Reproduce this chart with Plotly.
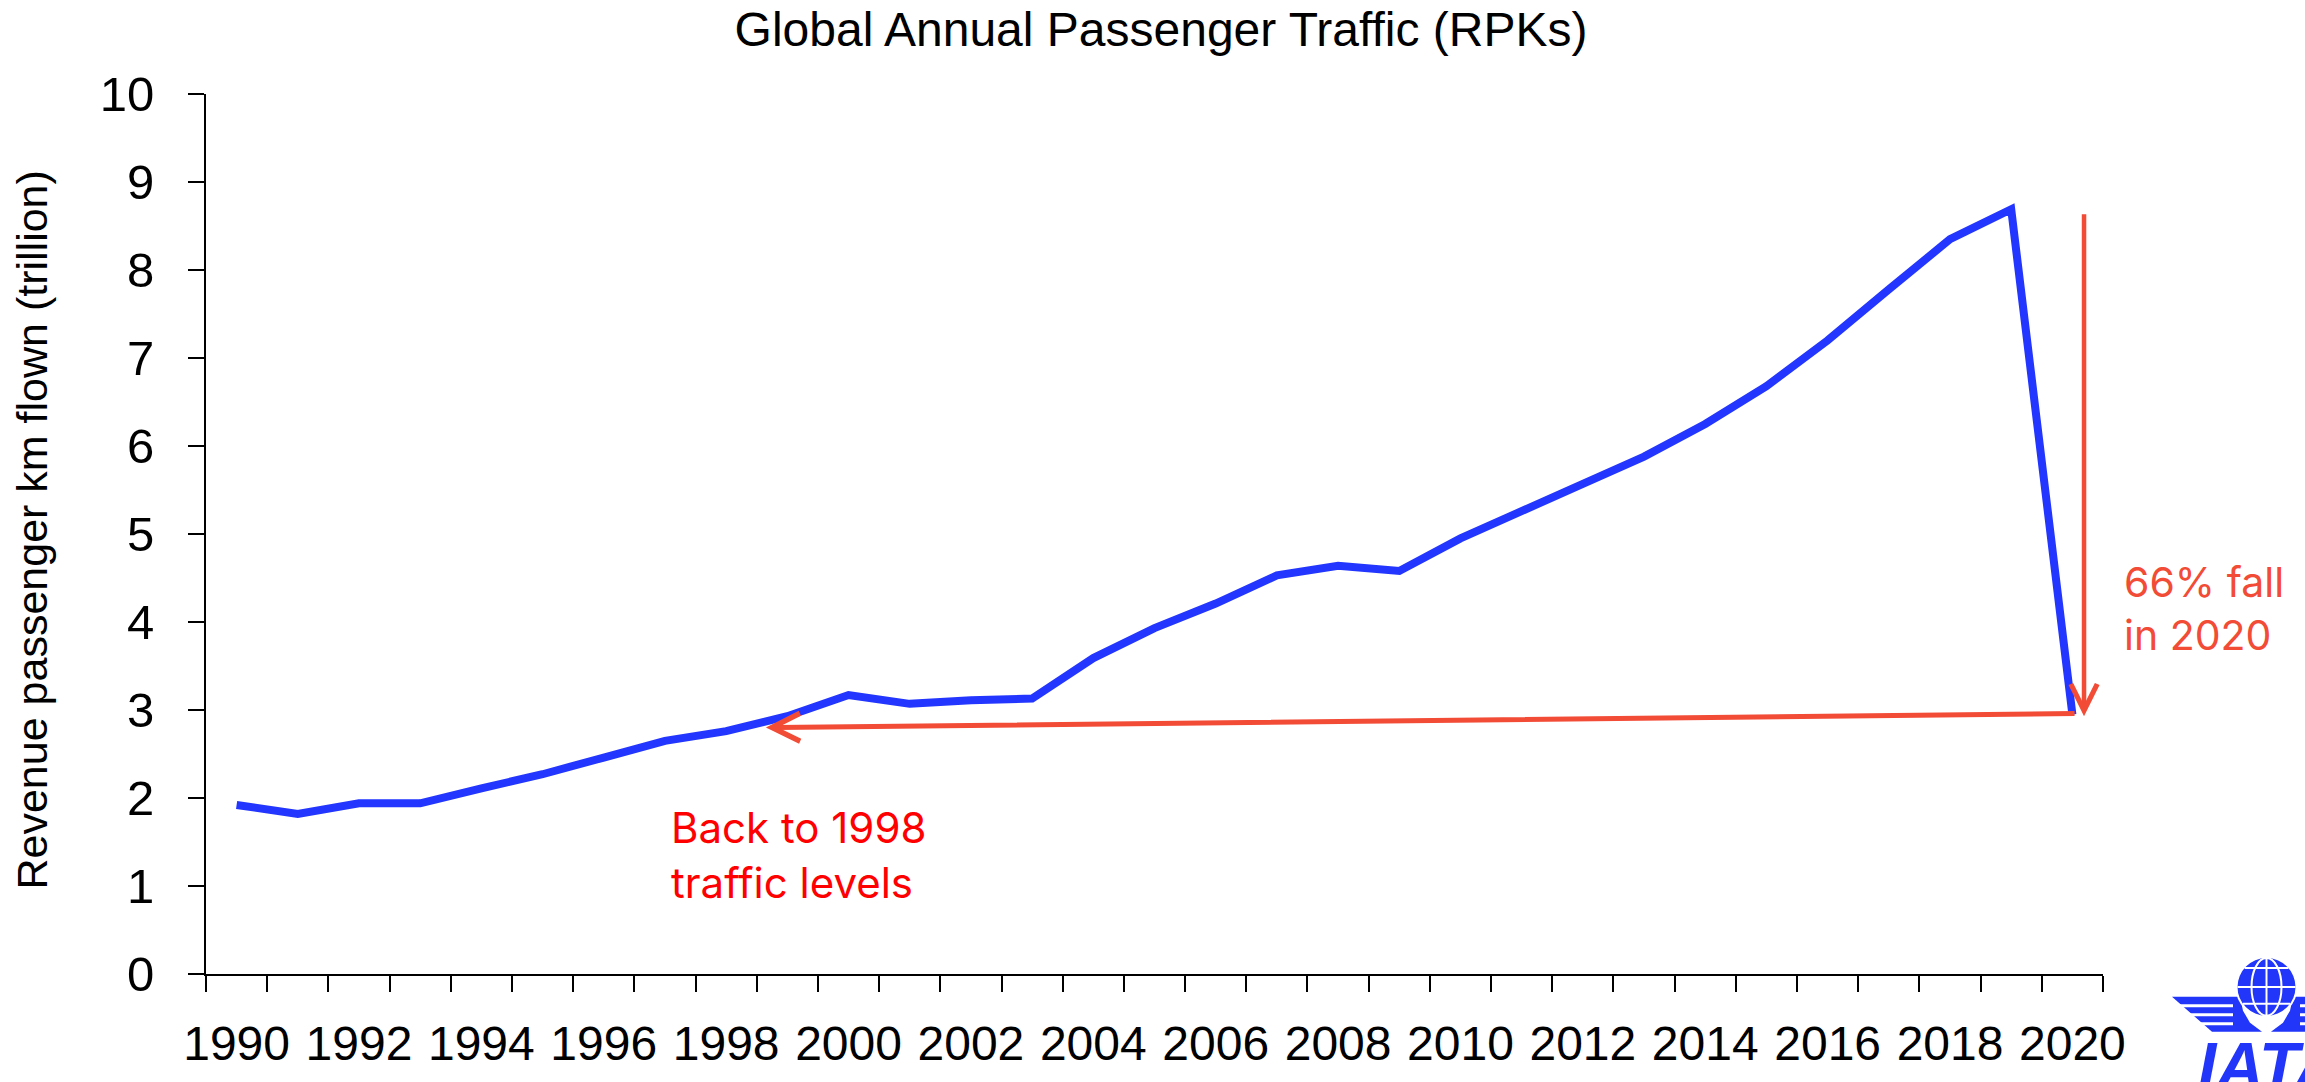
import plotly.graph_objects as go

# ---------------- data ----------------
years = list(range(1990, 2021))
rpk_trillion = [1.92, 1.82, 1.94, 1.94, 2.11, 2.27, 2.46, 2.65, 2.76, 2.93,
                3.17, 3.07, 3.11, 3.13, 3.59, 3.93, 4.21, 4.53, 4.64, 4.58,
                4.95, 5.27, 5.57, 5.88, 6.25, 6.68, 7.20, 7.78, 8.35, 8.69,
                2.95]
label_years = years[::2]
y_ticks = list(range(0, 11))

title_text = "Global Annual Passenger Traffic (RPKs)"
y_title = "Revenue passenger km flown (trillion)"
fall_text = "66% fall<br>in 2020"
back_text = "Back to 1998<br>traffic levels"

# annotation anchor values (data units)
fall_top, fall_bottom, fall_x = 8.65, 2.93, 2020.19
back_from = (2020.06, 2.96)
back_to = (1998.65, 2.80)

# ---------------- style ----------------
W, H = 2305, 1082
L, R, T, B = 206, 202, 94, 103
BLUE = "#2236FF"
ARROW = "#F24B36"
AX_FONT = "Liberation Sans, Arial, sans-serif"
ANN_FONT = "Inter, Liberation Sans, sans-serif"

def px(x):
    return (x - L) / (W - L - R)

def py(y):
    return (H - B - y) / (H - T - B)

fig = go.Figure()
fig.add_trace(go.Scatter(x=years, y=rpk_trillion, mode="lines",
                         line=dict(color=BLUE, width=8),
                         hoverinfo="skip", showlegend=False))

fig.update_layout(
    width=W, height=H,
    margin=dict(l=L, r=R, t=T, b=B),
    paper_bgcolor="white", plot_bgcolor="white",
    title=dict(text=title_text, x=1161 / W, xanchor="center",
               y=1 - 29 / H, yanchor="middle",
               font=dict(family=AX_FONT, size=48, color="black")),
    showlegend=False,
)

boundaries = [y - 0.5 for y in years] + [years[-1] + 0.5]
fig.update_xaxes(
    range=[years[0] - 0.5, years[-1] + 0.5],
    tickmode="array", tickvals=label_years,
    ticktext=[str(y) for y in label_years],
    ticks="", showgrid=False, zeroline=False,
    showline=True, linecolor="black", linewidth=2,
    tickfont=dict(family=AX_FONT, size=48, color="black"),
    ticklabelstandoff=26,
    minor=dict(tickmode="array", tickvals=boundaries, ticks="outside",
               ticklen=16, tickwidth=2, tickcolor="black", showgrid=False),
)
fig.update_yaxes(
    range=[0, 10], tickmode="array", tickvals=y_ticks,
    ticks="outside", ticklen=16, tickwidth=2, tickcolor="black",
    showgrid=False, zeroline=False,
    showline=True, linecolor="black", linewidth=2,
    tickfont=dict(family=AX_FONT, size=49, color="black"),
    ticklabelstandoff=24,
)

# y axis title
fig.add_annotation(text=y_title, xref="paper", yref="paper",
                   x=px(32), y=py(533), xanchor="center", yanchor="middle",
                   textangle=-90, showarrow=False,
                   font=dict(family=AX_FONT, size=43, color="black"))

# arrows
fig.add_annotation(x=fall_x, y=fall_bottom, ax=fall_x, ay=fall_top,
                   xref="x", yref="y", axref="x", ayref="y", text="",
                   showarrow=True, arrowhead=5, arrowsize=1.15, arrowwidth=4.5,
                   arrowcolor=ARROW, standoff=0, startstandoff=0)
fig.add_annotation(x=back_to[0], y=back_to[1], ax=back_from[0], ay=back_from[1],
                   xref="x", yref="y", axref="x", ayref="y", text="",
                   showarrow=True, arrowhead=5, arrowsize=1.1, arrowwidth=5,
                   arrowcolor=ARROW, standoff=0, startstandoff=0)

# texts (paper coords so they are not hidden outside the axis range)
fig.add_annotation(text=fall_text, xref="paper", yref="paper", x=px(2122), y=py(611),
                   xanchor="left", yanchor="middle", align="left", showarrow=False,
                   font=dict(family=ANN_FONT, size=41, color=ARROW))
fig.add_annotation(text=back_text, xref="paper", yref="paper", x=px(669), y=py(859),
                   xanchor="left", yanchor="middle", align="left", showarrow=False,
                   font=dict(family=ANN_FONT, size=42, color="#FF0000"))

# ---------------- IATA logo (decoration) ----------------
LOGO = "#2236FA"
shapes = []
def path_px(points, closed=True):
    s = "M " + " L ".join(f"{px(x):.5f},{py(y):.5f}" for x, y in points)
    return s + (" Z" if closed else "")

cx, cy, r = 2266.5, 992, 29
left_wing = [(2172, 1002), (2240, 1002), (2243, 1016), (2250, 1028), (2262, 1037), (2212, 1037)]
right_wing = [(2 * cx - x, y) for x, y in left_wing]
for wing in (left_wing, right_wing):
    shapes.append(dict(type="path", xref="paper", yref="paper", path=path_px(wing),
                       fillcolor=LOGO, line=dict(width=0), layer="above"))
for yy in (1011, 1020, 1029):
    for (xa, xb) in ((2165, 2233), (2 * cx - 2233, 2 * cx - 2165)):
        shapes.append(dict(type="line", xref="paper", yref="paper",
                           x0=px(xa), x1=px(xb), y0=py(yy), y1=py(yy),
                           line=dict(color="white", width=3), layer="above"))
shapes.append(dict(type="circle", xref="paper", yref="paper",
                   x0=px(cx - r - 2), x1=px(cx + r + 2), y0=py(cy + r + 2), y1=py(cy - r - 2),
                   fillcolor="white", line=dict(width=0), layer="above"))
shapes.append(dict(type="circle", xref="paper", yref="paper",
                   x0=px(cx - r), x1=px(cx + r), y0=py(cy + r), y1=py(cy - r),
                   fillcolor=LOGO, line=dict(width=0), layer="above"))
for dy in (-19, 0, 17):
    hw = (r * r - dy * dy) ** 0.5
    shapes.append(dict(type="line", xref="paper", yref="paper",
                       x0=px(cx - hw), x1=px(cx + hw), y0=py(cy + dy), y1=py(cy + dy),
                       line=dict(color="white", width=2), layer="above"))
shapes.append(dict(type="line", xref="paper", yref="paper",
                   x0=px(cx), x1=px(cx), y0=py(cy - r), y1=py(cy + r),
                   line=dict(color="white", width=2), layer="above"))
shapes.append(dict(type="circle", xref="paper", yref="paper",
                   x0=px(cx - 15), x1=px(cx + 15), y0=py(cy + r), y1=py(cy - r),
                   line=dict(color="white", width=2), layer="above"))
fig.update_layout(shapes=shapes)
fig.add_annotation(text="<b><i>IATA</i></b>", xref="paper", yref="paper",
                   x=px(2196), y=py(1032), xanchor="left", yanchor="top",
                   showarrow=False,
                   font=dict(family="Liberation Sans, Arial, sans-serif", size=66, color=LOGO))

fig.write_html("out.html", config={"displayModeBar": False},
               post_script="document.body.style.margin='0';")
